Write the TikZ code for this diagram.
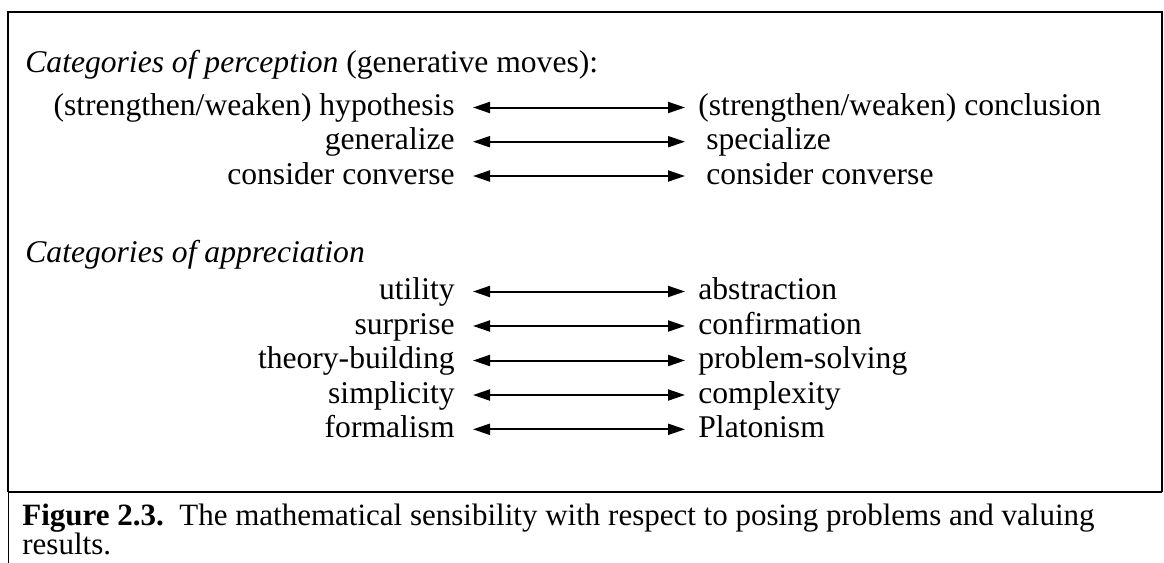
\documentclass[tikz,border=0pt]{standalone}
\usepackage{fontspec}
\setmainfont{Liberation Serif}
\usetikzlibrary{arrows.meta}
\usetikzlibrary{positioning}

\begin{document}
\begin{tikzpicture}[x=0.5pt,y=-0.5pt,font=\fontsize{15.8}{19}\selectfont]
        \tikzstyle{every node}=[inner sep=0pt,text height=11pt,text depth=3pt]
        \tikzstyle{lhs}=[anchor=base east]
        \tikzstyle{rhs}=[anchor=base west]
        \tikzstyle{head}=[anchor=base west]
        \tikzstyle{capline}=[anchor=base west,font=\fontsize{15.5}{19}\selectfont]
        \tikzstyle{pair}=[{Triangle[length=8.5pt,width=5.5pt]}-{Triangle[length=8.5pt,width=5.5pt]},line width=1pt,shorten <=9pt,shorten >=6.5pt]
        \tikzstyle{frame}=[line width=1.25pt]
        \useasboundingbox (0,0) rectangle (1164,563);
        \draw[frame] (8,492) -- (8,12) -- (1162,12) -- (1162,492);
        \draw[frame] (8,492) -- (1162,492);
        \draw[line width=0.5pt] (8,492) -- (8,563);
        \node (perc) [head] at (25,72) {\textit{Categories of perception} (generative moves):};
        \node (hyp) [lhs] at (455,115.5) {(strengthen/weaken) hypothesis};
        \node (con) [rhs] at (698,115.5) {(strengthen/weaken) conclusion};
        \node (gen) [lhs] at (455,149.7) {generalize};
        \node (spe) [rhs] at (698,149.7) {\ specialize};
        \node (cvl) [lhs] at (455,184) {consider converse};
        \node (cvr) [rhs] at (698,184) {\ consider converse};
        \node (appr) [head] at (25,262) {\textit{Categories of appreciation}};
        \node (uti) [lhs] at (455,299.5) {utility};
        \node (abs) [rhs] at (698,299.5) {abstraction};
        \node (sur) [lhs] at (455,334) {surprise};
        \node (cnf) [rhs] at (698,334) {confirmation};
        \node (thb) [lhs] at (455,368.5) {theory-building};
        \node (prs) [rhs] at (698,368.5) {problem-solving};
        \node (sim) [lhs] at (455,403) {simplicity};
        \node (cpx) [rhs] at (698,403) {complexity};
        \node (frm) [lhs] at (455,437.3) {formalism};
        \node (pla) [rhs] at (698,437.3) {Platonism};
        \draw[pair] (hyp) -- (con);
        \draw[pair] (gen) -- (spe);
        \draw[pair] (cvl) -- (cvr);
        \draw[pair] (uti) -- (abs);
        \draw[pair] (sur) -- (cnf);
        \draw[pair] (thb) -- (prs);
        \draw[pair] (sim) -- (cpx);
        \draw[pair] (frm) -- (pla);
        \node (cap1) [capline] at (22,525) {\textbf{Figure 2.3.}\ \ The mathematical sensibility with respect to posing problems and valuing};
        \node (cap2) [capline] at ([yshift=-14.5pt]cap1.base west) {results.};
        \tikzstyle{every node}=[]
\end{tikzpicture}
\end{document}
